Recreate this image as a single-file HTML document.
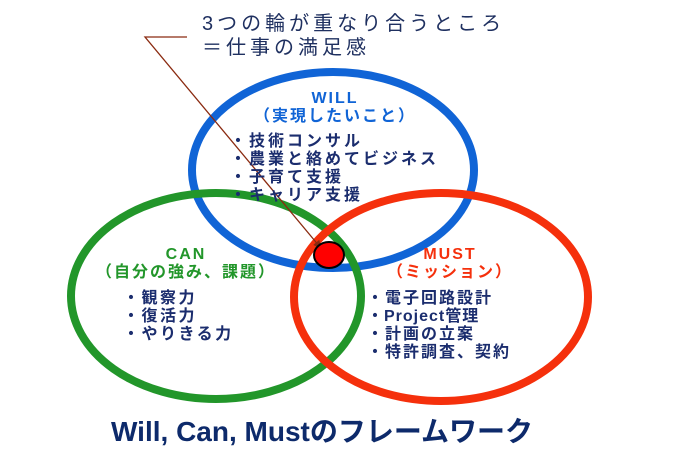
<!DOCTYPE html>
<html><head><meta charset="utf-8"><style>
html,body{margin:0;padding:0;background:#fff;width:686px;height:467px;overflow:hidden}
svg{display:block}
text{font-family:"Liberation Sans","Noto Sans CJK JP",sans-serif}
.b{font-weight:bold;font-size:16px;fill:#1b2d6e;letter-spacing:3px}
.h{font-weight:bold;font-size:16px;letter-spacing:2px}
</style></head><body>
<svg width="686" height="467" viewBox="0 0 686 467">
<defs><marker id="a" markerWidth="8" markerHeight="8" refX="6" refY="4" orient="auto" markerUnits="userSpaceOnUse"><path d="M0,0 L8,4 L0,8z" fill="#8a2a10"/></marker></defs>
<ellipse cx="333" cy="170" rx="141" ry="98" fill="none" stroke="#1064d6" stroke-width="8"/>
<ellipse cx="216" cy="296" rx="145" ry="103" fill="none" stroke="#22962a" stroke-width="8"/>
<ellipse cx="441" cy="297" rx="147" ry="104" fill="none" stroke="#f5300c" stroke-width="8"/>
<path d="M187,37 L145,37 L320,247" fill="none" stroke="#8a2a10" stroke-width="1.3" marker-end="url(#a)"/>
<ellipse cx="329" cy="255" rx="15" ry="13" fill="#f00" stroke="#000" stroke-width="2"/>
<text x="202" y="30" font-size="20" letter-spacing="4" fill="#1f3060">3つの輪が重なり合うところ</text>
<text x="202" y="54" font-size="20" letter-spacing="4" fill="#1f3060">＝仕事の満足感</text>
<text class="h" x="335" y="103" text-anchor="middle" fill="#1064d6">WILL</text>
<text class="h" x="335" y="121" text-anchor="middle" fill="#1064d6">（実現したいこと）</text>
<text class="b" x="230" y="146">・技術コンサル</text>
<text class="b" x="230" y="164">・農業と絡めてビジネス</text>
<text class="b" x="230" y="182">・子育て支援</text>
<text class="b" x="230" y="200">・キャリア支援</text>
<text class="h" x="186" y="259" text-anchor="middle" fill="#22962a">CAN</text>
<text class="h" x="186" y="277" text-anchor="middle" fill="#22962a">（自分の強み、課題）</text>
<text class="b" x="123" y="303" style="letter-spacing:2.5px">・観察力</text>
<text class="b" x="123" y="321" style="letter-spacing:2.5px">・復活力</text>
<text class="b" x="123" y="339" style="letter-spacing:2.5px">・やりきる力</text>
<text class="h" x="450" y="259" text-anchor="middle" fill="#f5300c">MUST</text>
<text class="h" x="450" y="277" text-anchor="middle" fill="#f5300c">（ミッション）</text>
<text class="b" x="367" y="303" style="letter-spacing:2px">・電子回路設計</text>
<text class="b" x="367" y="321" style="letter-spacing:1px">・Project管理</text>
<text class="b" x="367" y="339" style="letter-spacing:2px">・計画の立案</text>
<text class="b" x="367" y="357" style="letter-spacing:2px">・特許調査、契約</text>
<text x="322" y="441" text-anchor="middle" font-weight="bold" font-size="28" fill="#0d2a6b">Will, Can, Mustのフレームワーク</text>
</svg>
</body></html>
